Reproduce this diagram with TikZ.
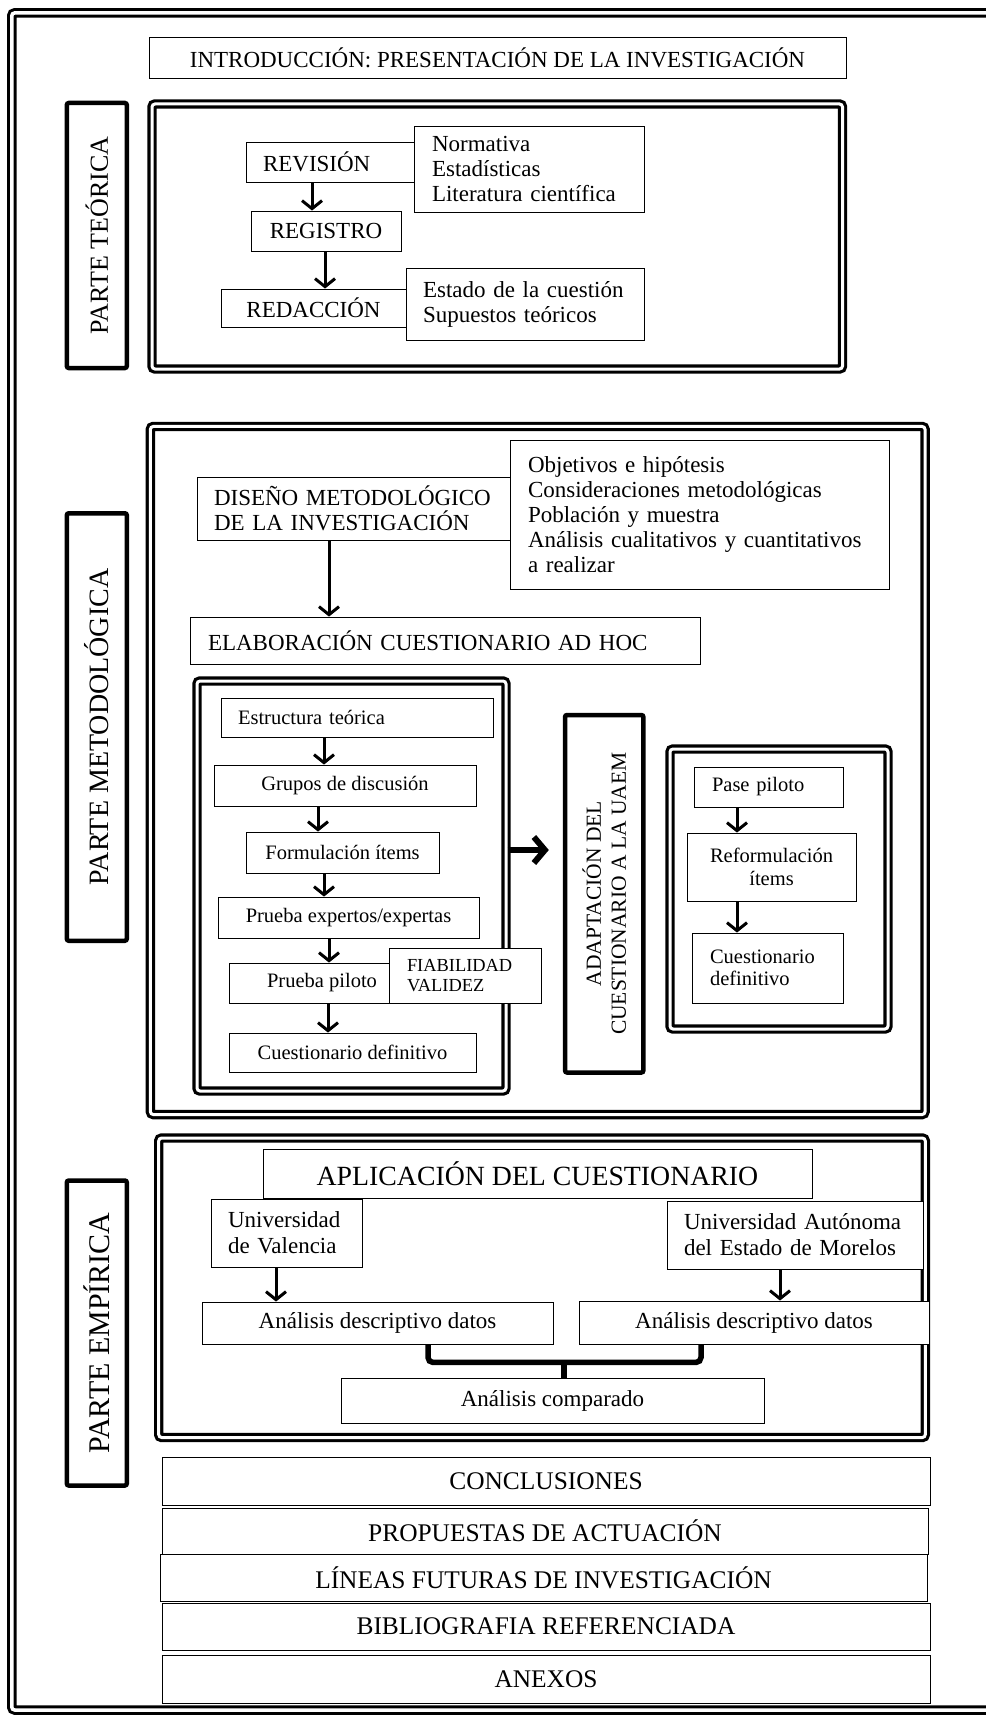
\documentclass[tikz,border=0pt]{standalone}
\usepackage{fontspec}
\setmainfont{Liberation Serif}
\usetikzlibrary{arrows.meta}

\begin{document}
\begin{tikzpicture}[x = 1pt, y = -1pt,
    box/.style = { draw, line width = 0.9pt, fill = white, inner sep = 0pt, align = center, font = \fontsize{23}{25}\selectfont },
    lbox/.style = { box, align = left },
    sbox/.style = { box, font = \fontsize{20.5}{22.5}\selectfont },
    endbox/.style = { box, minimum height = 47pt, font = \fontsize{25.4}{27}\selectfont },
    frame/.style = { draw, double, line width = 3.2pt, double distance = 3pt, rounded corners = 3pt, inner sep = 0pt },
    tag/.style = { draw, line width = 4.5pt, rounded corners = 2pt, inner sep = 0pt, rotate = 90, align = center },
    arr/.style = { line width = 3pt, -{Straight Barb[length = 8pt, width = 20pt]} },
    bigarr/.style = { line width = 6pt, -{Straight Barb[length = 11pt, width = 26pt]} },
    brace/.style = { line width = 5.5pt, rounded corners = 5pt }]
    \useasboundingbox (0,0) rectangle (985,1715);
    \draw[frame, line width = 3pt, double distance = 3.5pt] (11.75,12.9) rectangle (1000,1710);

    \node[box, minimum width = 697pt, minimum height = 41pt] (intro) at (497.5,57.5) {INTRODUCCIÓN: PRESENTACIÓN DE LA INVESTIGACIÓN};

    % parte teorica
    \node[tag, minimum width = 265pt, minimum height = 60pt, font = \fontsize{26}{28}\selectfont] (tteo) at (96.8,235.5) {PARTE TEÓRICA};
    \node[frame, minimum width = 690.5pt, minimum height = 265pt] (fteo) at (497.25,236.5) {};
    \node[lbox, text width = 168pt, minimum height = 40pt] (rev) at (330,162) {\leftskip=17pt\parindent=0pt REVISIÓN\par};
    \node[lbox, text width = 230pt, minimum height = 86pt] (norm) at (529,169) {\leftskip=18pt\parindent=0pt Normativa\\Estadísticas\\Literatura científica\par};
    \node[box, minimum width = 150pt, minimum height = 40pt] (reg) at (326,231) {REGISTRO};
    \node[box, minimum width = 185pt, minimum height = 38pt] (red) at (313.5,308) {REDACCIÓN};
    \node[lbox, text width = 238pt, minimum height = 72pt] (est) at (525,304) {\leftskip=17pt\parindent=0pt Estado de la cuestión\\Supuestos teóricos\par};
    \draw[arr] ([xshift = -18pt]rev.south) -- ([xshift = -18pt]rev.south |- reg.north);
    \draw[arr] ([xshift = -1pt]reg.south) -- ([xshift = -1pt]reg.south |- red.north);

    % parte metodologica
    \node[tag, minimum width = 427.5pt, minimum height = 60pt, font = \fontsize{28}{30}\selectfont] (tmet) at (96.8,727) {PARTE METODOLÓGICA};
    \node[frame, minimum width = 774.7pt, minimum height = 688.1pt] (fmet) at (537.7,770.5) {};
    \node[lbox, text width = 313pt, minimum height = 63pt] (dis) at (353.5,508.5) {\leftskip=17pt\parindent=0pt DISEÑO METODOLÓGICO\\DE LA INVESTIGACIÓN\par};
    \node[lbox, text width = 379pt, minimum height = 149pt] (obj) at (699.5,514.5) {\leftskip=18pt\parindent=0pt Objetivos e hipótesis\\Consideraciones metodológicas\\Población y muestra\\Análisis cualitativos y cuantitativos\\a realizar\par};
    \node[lbox, text width = 510pt, minimum height = 47pt] (elab) at (445,640.5) {\leftskip=18pt\parindent=0pt ELABORACIÓN CUESTIONARIO AD HOC\par};
    \draw[arr] ([xshift = -24.5pt]dis.south) -- ([xshift = -24.5pt]dis.south |- elab.north);

    \node[frame, minimum width = 309pt, minimum height = 410pt] (fsub1) at (351.5,886) {};
    \node[sbox, align = left, text width = 272pt, minimum height = 39pt] (estr) at (357,717.5) {\leftskip=17pt\parindent=0pt Estructura teórica\par};
    \node[sbox, minimum width = 262pt, minimum height = 41pt] (grup) at (345,785.5) {Grupos de discusión};
    \node[sbox, minimum width = 193pt, minimum height = 41pt] (form) at (342.5,852.5) {Formulación ítems};
    \node[sbox, minimum width = 261pt, minimum height = 41pt] (pexp) at (348.5,917.5) {Prueba expertos/expertas};
    \node[sbox, minimum width = 186pt, minimum height = 40pt] (ppil) at (322,983) {Prueba piloto};
    \node[box, align = left, text width = 152pt, minimum height = 55pt, font = \fontsize{18.4}{20}\selectfont] (fiab) at (465,975.5) {\leftskip=18pt\parindent=0pt FIABILIDAD\\VALIDEZ\par};
    \node[sbox, minimum width = 247pt, minimum height = 39pt] (cdef) at (352.5,1052.5) {Cuestionario definitivo};
    \draw[arr] ([xshift = -33pt]estr.south) -- ([xshift = -33pt]estr.south |- grup.north);
    \draw[arr] ([xshift = -27pt]grup.south) -- ([xshift = -27pt]grup.south |- form.north);
    \draw[arr] ([xshift = -18.5pt]form.south) -- ([xshift = -18.5pt]form.south |- pexp.north);
    \draw[arr] ([xshift = -19.5pt]pexp.south) -- ([xshift = -19.5pt]pexp.south |- ppil.north);
    \draw[arr] ([xshift = 6pt]ppil.south) -- ([xshift = 6pt]ppil.south |- cdef.north);

    \node[tag, minimum width = 357.5pt, minimum height = 78.3pt, font = \fontsize{21.5}{25}\selectfont] (adapt) at (604.2,893.75) {ADAPTACIÓN DEL\\CUESTIONARIO A LA UAEM};
    \coordinate (adin) at ([xshift = -14pt, yshift = 43.75pt]adapt.north);
    \draw[bigarr] (fsub1.east |- adin) -- (adin);

    \node[frame, minimum width = 218pt, minimum height = 280pt] (fsub2) at (779,889) {};
    \node[sbox, align = left, text width = 149pt, minimum height = 40pt] (pase) at (768.5,787) {\leftskip=18pt\parindent=0pt Pase piloto\par};
    \node[sbox, minimum width = 169pt, minimum height = 68pt] (refo) at (771.5,867) {Reformulación\\ítems};
    \node[sbox, align = left, text width = 151pt, minimum height = 70pt] (cdef2) at (767.5,968) {\leftskip=18pt\parindent=0pt Cuestionario\\definitivo\par};
    \draw[arr] ([xshift = -31.5pt]pase.south) -- ([xshift = -31.5pt]pase.south |- refo.north);
    \draw[arr] ([xshift = -34.5pt]refo.south) -- ([xshift = -34.5pt]refo.south |- cdef2.north);

    % parte empirica
    \node[tag, minimum width = 305pt, minimum height = 60pt, font = \fontsize{30}{32}\selectfont] (temp) at (96.8,1333) {PARTE EMPÍRICA};
    \node[frame, minimum width = 766.6pt, minimum height = 299.5pt] (femp) at (542,1287.75) {};
    \node[box, minimum width = 549pt, minimum height = 49pt, font = \fontsize{27.8}{30}\selectfont] (aplic) at (537.5,1173.5) {APLICACIÓN DEL CUESTIONARIO};
    \node[lbox, text width = 151pt, minimum height = 68pt, font = \fontsize{23}{26}\selectfont] (uv) at (286.5,1233) {\leftskip=17pt\parindent=0pt Universidad\\de Valencia\par};
    \node[lbox, text width = 256pt, minimum height = 68pt, font = \fontsize{23}{26}\selectfont] (uaem) at (795,1235) {\leftskip=17pt\parindent=0pt Universidad Autónoma\\del Estado de Morelos\par};
    \node[box, minimum width = 351pt, minimum height = 42pt] (an1) at (377.5,1323) {Análisis descriptivo datos};
    \node[box, minimum width = 350pt, minimum height = 43pt] (an2) at (754,1322.5) {Análisis descriptivo datos};
    \node[box, minimum width = 423pt, minimum height = 45pt] (comp) at (552.5,1400.5) {Análisis comparado};
    \draw[arr] ([xshift = -10.5pt]uv.south) -- ([xshift = -10.5pt]uv.south |- an1.north);
    \draw[arr] ([xshift = -15pt]uaem.south) -- ([xshift = -15pt]uaem.south |- an2.north);
    \draw[brace] ([xshift = 50.5pt]an1.south) -- ++(0,18) -| ([xshift = -53pt]an2.south);
    \coordinate (junc) at ([xshift = 11.5pt, yshift = 16pt]comp.north);
    \draw[brace] (junc) -- ([xshift = 11.5pt]comp.north);

    % cierre
    \node[endbox, minimum width = 768pt, minimum height = 48pt] (conc) at (546,1481) {CONCLUSIONES};
    \node[endbox, minimum width = 766pt, minimum height = 46pt] (prop) at (545,1531) {PROPUESTAS DE ACTUACIÓN};
    \node[endbox, minimum width = 767pt] (lin) at (543.5,1577.5) {LÍNEAS FUTURAS DE INVESTIGACIÓN};
    \node[endbox, minimum width = 768pt] (bib) at (546,1626.5) {BIBLIOGRAFIA REFERENCIADA};
    \node[endbox, minimum width = 768pt, minimum height = 48pt] (anex) at (546,1679) {ANEXOS};
\end{tikzpicture}
\end{document}
